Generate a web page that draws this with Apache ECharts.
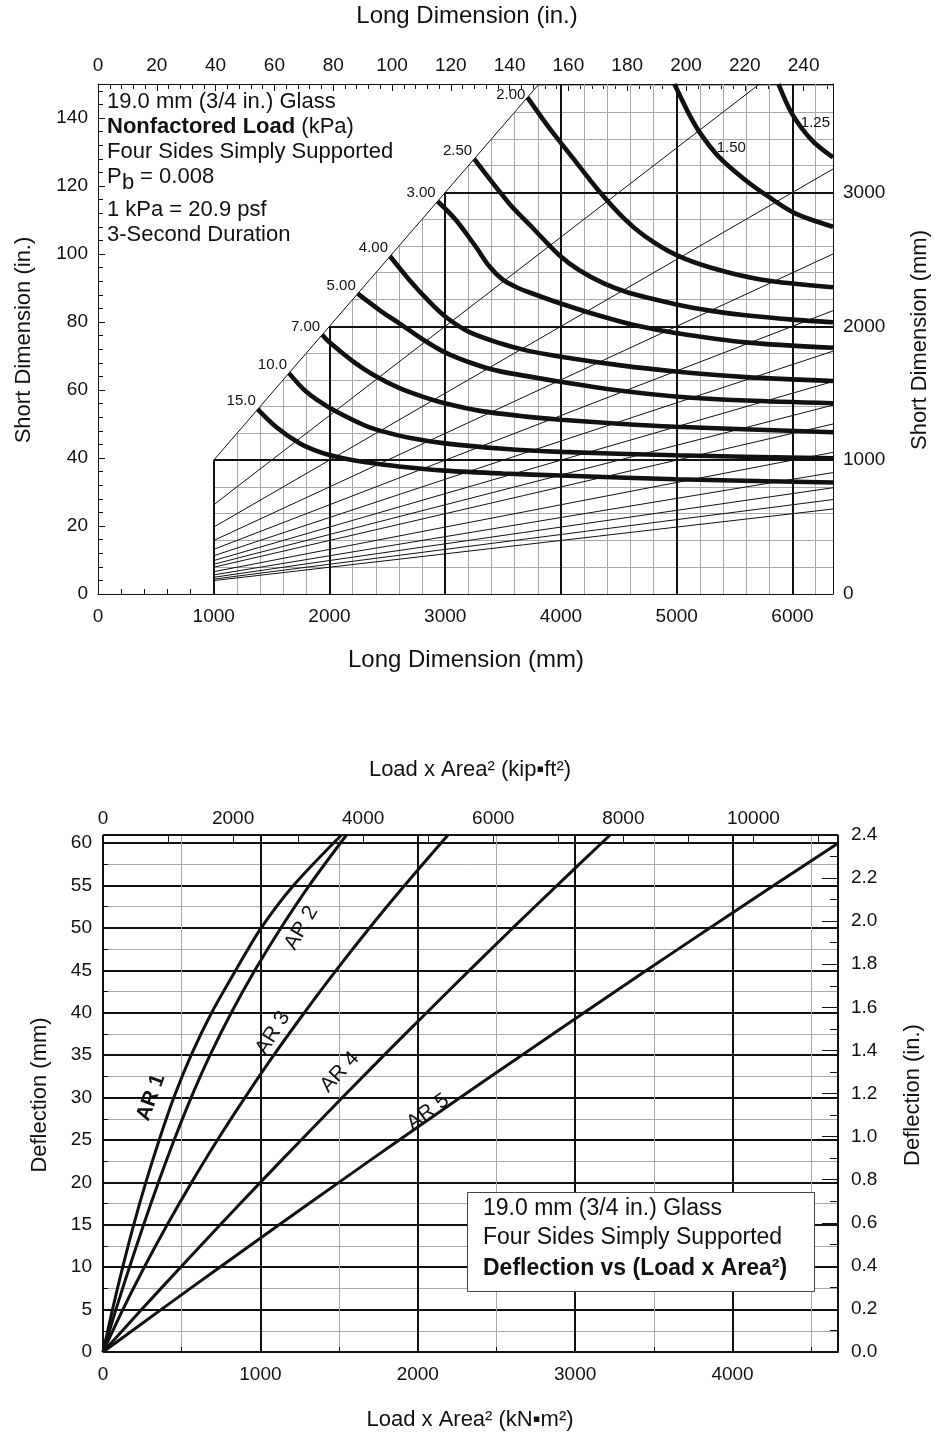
<!DOCTYPE html>
<html><head><meta charset="utf-8">
<script src="https://cdn.jsdelivr.net/npm/echarts@6/dist/echarts.min.js"></script>
<style>html,body{margin:0;padding:0;background:#fff}#c{width:936px;height:1436px}</style>
</head><body><div id="c"></div>
<script>
// ================= DATA =================
// Top chart: load contours (kPa). Points are [long dimension mm, short dimension mm]
const load15  = [[1380,1380],[1550,1240],[1741,1126],[1870,1075],[2000,1038],[2150,1008],[2316,984],[2600,953],[2997,922],[3500,900],[3997,885],[4989,857],[6350,833]];
const load10  = [[1650,1650],[1800,1510],[2000,1392],[2316,1255],[2460,1215],[2700,1165],[2997,1125],[3500,1085],[3997,1062],[4989,1036],[6350,1014]];
const load7   = [[1937,1937],[2000,1880],[2200,1740],[2373,1640],[2600,1540],[2804,1475],[2997,1425],[3300,1368],[3700,1325],[3997,1302],[4500,1272],[4989,1250],[6350,1208]];
const load5   = [[2244,2244],[2450,2110],[2603,2022],[2800,1905],[2997,1805],[3250,1718],[3466,1665],[3997,1585],[4500,1520],[4989,1476],[5600,1445],[6350,1425]];
const load4   = [[2523,2523],[2690,2346],[2850,2195],[2997,2075],[3200,1960],[3466,1875],[3700,1820],[3997,1773],[4500,1710],[4989,1662],[5600,1620],[6350,1591]];
const load3   = [[2934,2934],[3092,2794],[3264,2594],[3379,2450],[3494,2350],[3620,2290],[3753,2245],[3997,2170],[4328,2080],[4650,2005],[4989,1950],[5592,1880],[6350,1840]];
const load2_5 = [[3250,3250],[3552,2918],[3750,2740],[3983,2532],[4155,2420],[4370,2320],[4586,2250],[4989,2165],[5300,2115],[5592,2082],[6000,2050],[6350,2030]];
const load2   = [[3710,3710],[3900,3480],[4100,3260],[4328,3010],[4550,2800],[4730,2670],[4989,2535],[5305,2435],[5736,2348],[6350,2291]];
const load1_5 = [[4980,3810],[5103,3591],[5204,3441],[5362,3268],[5592,3093],[5793,2968],[6023,2844],[6350,2744]];
const load1_25= [[5879,3810],[5994,3591],[6166,3391],[6350,3262]];
const loadLabels = ['15.0','10.0','7.00','5.00','4.00','3.00','2.50','2.00','1.50','1.25'];
// aspect-ratio guide lines (long/short)
const aspectRatios = [1, 1.5, 2, 2.5, 3, 3.5, 4, 4.5, 5, 6, 7, 8, 9, 10];

// Bottom chart: deflection (mm) vs load x area^2 (kN·m^2). Points [kN·m², mm]
const ar1 = [[0,0],[60,5],[125,10],[195,15],[272,20],[357,25],[450,30],[560,35],[690,40],[843,45],[1005,50],[1210,55],[1515,60.96]];
const ar2 = [[0,0],[82,5],[168,10],[258,15],[352,20],[452,25],[560,30],[680,35],[815,40],[965,45],[1130,50],[1310,55],[1547,60.96]];
const ar3 = [[0,0],[126,5],[262,10],[408,15],[563,20],[727,25],[902,30],[1085,35],[1279,40],[1481,45],[1693,50],[1916,55],[2192,60.96]];
const ar4 = [[0,0],[245,5],[493,10],[745,15],[1000,20],[1259,25],[1521,30],[1786,35],[2056,40],[2328,45],[2604,50],[2884,55],[3222,60.96]];
const ar5 = [[0,0],[369,5],[742,10],[1119,15],[1499,20],[1882,25],[2270,30],[2661,35],[3056,40],[3454,45],[3855,50],[4261,55],[4670,60]];
const arNames = ['AR 1','AR 2','AR 3','AR 4','AR 5'];

// ================= CHART =================
const FONT = '"Liberation Sans", Arial, Helvetica, sans-serif';
const INK = '#111';
const X_MAX_MM = 6350, Y_MAX_MM = 3810;       // 250 in x 150 in
const GRID_STEP = 200, MAJOR_STEP = 1000, REGION_START = 1000;
const KIPFT2 = 0.41325;                      // kN·m² per kip·ft²
const XB_MAX = 4670, DEF_MAX = 60.96;        // bottom chart extents

const seg = (a, b) => ({ coords: [a, b] });
const minorGrid = [], majorGrid = [];
for (let x = REGION_START; x < X_MAX_MM; x += GRID_STEP) {
  (x % MAJOR_STEP === 0 ? majorGrid : minorGrid).push(seg([x, 0], [x, Math.min(x, Y_MAX_MM)]));
}
for (let y = GRID_STEP; y < Y_MAX_MM; y += GRID_STEP) {
  (y % MAJOR_STEP === 0 ? majorGrid : minorGrid).push(seg([Math.max(REGION_START, y), y], [X_MAX_MM, y]));
}
const arLines = aspectRatios.map(r => {
  let x1 = X_MAX_MM, y1 = X_MAX_MM / r;
  if (y1 > Y_MAX_MM) { y1 = Y_MAX_MM; x1 = Y_MAX_MM * r; }
  return seg([REGION_START, REGION_START / r], [x1, y1]);
});

const plain = v => String(Math.round(v * 1000) / 1000);

function ax(o) {
  return {
    type: 'value', gridIndex: o.grid, position: o.pos, min: o.min, max: o.max, interval: o.interval,
    axisLine: { show: true, onZero: false, lineStyle: { color: INK, width: 1 } },
    axisTick: { show: true, inside: true, length: o.tickLen || 6, lineStyle: { color: INK, width: 1 } },
    minorTick: { show: !!o.minor, splitNumber: o.minor || 5, length: o.minorLen || 4, lineStyle: { color: INK, width: 1 } },
    axisLabel: { show: true, color: INK, fontSize: 19, fontFamily: FONT, margin: o.margin || 10,
      showMaxLabel: o.showMax, showMinLabel: true, hideOverlap: false, formatter: o.fmt || plain },
    splitLine: o.split ? { show: true, lineStyle: { color: INK, width: 2 } } : { show: false },
    minorSplitLine: o.split ? { show: true, lineStyle: { color: '#a8a8a8', width: 1 } } : { show: false }
  };
}

const curveSets = [load15, load10, load7, load5, load4, load3, load2_5, load2, load1_5, load1_25];
const curveSeries = curveSets.map((pts, i) => {
  const name = loadLabels[i];
  let labelIdx = 0, lab = { position: 'left', distance: 2, offset: [0, -8] };
  if (name === '2.00') lab = { position: 'left', distance: 2, offset: [0, -3] };
  if (name === '1.50') { labelIdx = 3; lab = { position: 'right', distance: 2, offset: [-4, -9] }; }
  if (name === '1.25') { labelIdx = 1; lab = { position: 'right', distance: 2, offset: [7, 10] }; }
  return {
    type: 'line', name, xAxisIndex: 0, yAxisIndex: 1, smooth: 0.3, z: 5,
    symbol: 'circle', symbolSize: 0, showSymbol: true, showAllSymbol: true,
    lineStyle: { color: INK, width: 4.6 }, itemStyle: { color: INK },
    data: pts.map((p, k) => k === labelIdx ? {
      value: p,
      label: Object.assign({ show: true, formatter: name, color: INK, fontSize: 15, fontFamily: FONT,
        textBorderWidth: 0 }, lab)
    } : { value: p })
  };
});

const arSets = [ar1, ar2, ar3, ar4, ar5];
const arSeries = arSets.map((pts, i) => ({
  type: 'line', name: arNames[i], xAxisIndex: 2, yAxisIndex: 2, smooth: 0.3,
  showSymbol: false, z: 5, lineStyle: { color: INK, width: 3 }, data: pts
}));
// label anchors for the AR curves (data coordinates) and their text angle
const arLabelCfg = [
  { at: [305, 30], rot: 70, bold: true },
  { at: [1260, 50], rot: 60 },
  { at: [1080, 37.6], rot: 58 },
  { at: [1505, 33], rot: 47 },
  { at: [2065, 28.3], rot: 36 }
];

function txt(x, y, text, size, opts) {
  opts = opts || {};
  return {
    type: 'text', x, y, rotation: opts.rot || 0, z: 100,
    style: Object.assign({
      text, fill: INK, font: (opts.bold ? 'bold ' : '') + size + 'px ' + FONT,
      textAlign: opts.align || 'center', textVerticalAlign: 'middle',
      align: opts.align || 'center', verticalAlign: 'middle'
    }, opts.style || {})
  };
}

const staticGraphics = [
    txt(467, 16, 'Long Dimension (in.)', 24),
    txt(466, 660, 'Long Dimension (mm)', 24),
    txt(24, 340, 'Short Dimension (in.)', 22, { rot: Math.PI / 2 }),
    txt(920, 340, 'Short Dimension (mm)', 22, { rot: Math.PI / 2 }),
    txt(107, 102, '19.0 mm (3/4 in.) Glass', 22, { align: 'left' }),
    { type: 'text', x: 107, y: 127, z: 100, style: {
        text: '{b|Nonfactored Load}{r| (kPa)}', align: 'left', verticalAlign: 'middle',
        textAlign: 'left', textVerticalAlign: 'middle',
        rich: { b: { fontSize: 22, fontWeight: 'bold', fontFamily: FONT, fill: INK, color: INK },
                r: { fontSize: 22, fontFamily: FONT, fill: INK, color: INK } } } },
    txt(107, 152, 'Four Sides Simply Supported', 22, { align: 'left' }),
    txt(107, 177, 'P', 22, { align: 'left' }),
    txt(122, 183, 'b', 22, { align: 'left' }),
    txt(134, 177, ' = 0.008', 22, { align: 'left' }),
    txt(107, 210, '1 kPa = 20.9 psf', 22, { align: 'left' }),
    txt(107, 235, '3-Second Duration', 22, { align: 'left' }),

    txt(470, 770, 'Load x Area² (kip▪ft²)', 22),
    txt(470, 1420, 'Load x Area² (kN▪m²)', 22),
    txt(40, 1095, 'Deflection (mm)', 22, { rot: Math.PI / 2 }),
    txt(913, 1095, 'Deflection (in.)', 22, { rot: Math.PI / 2 }),
    { type: 'rect', z: 99, shape: { x: 467.5, y: 1192.5, width: 347, height: 99 },
      style: { fill: '#fff', stroke: '#444', lineWidth: 1 } },
    txt(483, 1209, '19.0 mm (3/4 in.) Glass', 23, { align: 'left' }),
    txt(483, 1238, 'Four Sides Simply Supported', 23, { align: 'left' }),
    txt(483, 1269, 'Deflection vs (Load x Area²)', 23, { align: 'left', bold: true })
];

const option = {
  animation: false,
  backgroundColor: '#fff',
  textStyle: { fontFamily: FONT },
  grid: [
    { left: 98, top: 84, width: 735, height: 510 },
    { left: 103, top: 835, width: 735, height: 517 }
  ],
  xAxis: [
    ax({ grid: 0, pos: 'bottom', min: 0, max: X_MAX_MM, interval: 1000, minor: 5, tickLen: 5, minorLen: 5, margin: 13, showMax: false }),
    ax({ grid: 0, pos: 'top', min: 0, max: 250, interval: 20, minor: 5, tickLen: 7, minorLen: 5, margin: 9, showMax: false }),
    ax({ grid: 1, pos: 'bottom', min: 0, max: XB_MAX, interval: 1000, minor: 2, tickLen: 5, minorLen: 5, margin: 13, showMax: false, split: true }),
    ax({ grid: 1, pos: 'top', min: 0, max: XB_MAX / KIPFT2, interval: 2000, minor: 2, tickLen: 8, minorLen: 8, margin: 7, showMax: false })
  ],
  yAxis: [
    ax({ grid: 0, pos: 'left', min: 0, max: 150, interval: 20, minor: 5, tickLen: 7, minorLen: 5, margin: 10, showMax: false }),
    ax({ grid: 0, pos: 'right', min: 0, max: Y_MAX_MM, interval: 1000, minor: 5, tickLen: 7, minorLen: 5, margin: 10, showMax: false }),
    ax({ grid: 1, pos: 'left', min: 0, max: DEF_MAX, interval: 5, minor: 2, tickLen: 5, minorLen: 5, margin: 11, showMax: false, split: true }),
    ax({ grid: 1, pos: 'right', min: 0, max: 2.4, interval: 0.2, minor: 2, tickLen: 16, minorLen: 8, margin: 13, showMax: true,
      fmt: v => v.toFixed(1) })
  ],
  series: [
    { type: 'lines', coordinateSystem: 'cartesian2d', xAxisIndex: 0, yAxisIndex: 1, silent: true, z: 1,
      lineStyle: { color: '#a8a8a8', width: 1, opacity: 1 }, data: minorGrid },
    { type: 'lines', coordinateSystem: 'cartesian2d', xAxisIndex: 0, yAxisIndex: 1, silent: true, z: 2,
      lineStyle: { color: INK, width: 2, opacity: 1 }, data: majorGrid },
    { type: 'lines', coordinateSystem: 'cartesian2d', xAxisIndex: 0, yAxisIndex: 1, silent: true, z: 3,
      lineStyle: { color: INK, width: 1, opacity: 1 }, data: arLines },
    ...curveSeries,
    ...arSeries
  ],
  graphic: staticGraphics
};

const chart = echarts.init(document.getElementById('c'), null, { renderer: 'canvas', width: 936, height: 1436 });
chart.setOption(option);
// AR curve labels placed through the bottom chart's own scales
const arLabelGraphics = arLabelCfg.map((c, i) => {
  const p = chart.convertToPixel({ xAxisIndex: 2, yAxisIndex: 2 }, c.at);
  return txt(p[0], p[1], arNames[i], 21, { rot: c.rot * Math.PI / 180, bold: !!c.bold });
});
chart.setOption({ graphic: staticGraphics.concat(arLabelGraphics) });
</script>
</body></html>
